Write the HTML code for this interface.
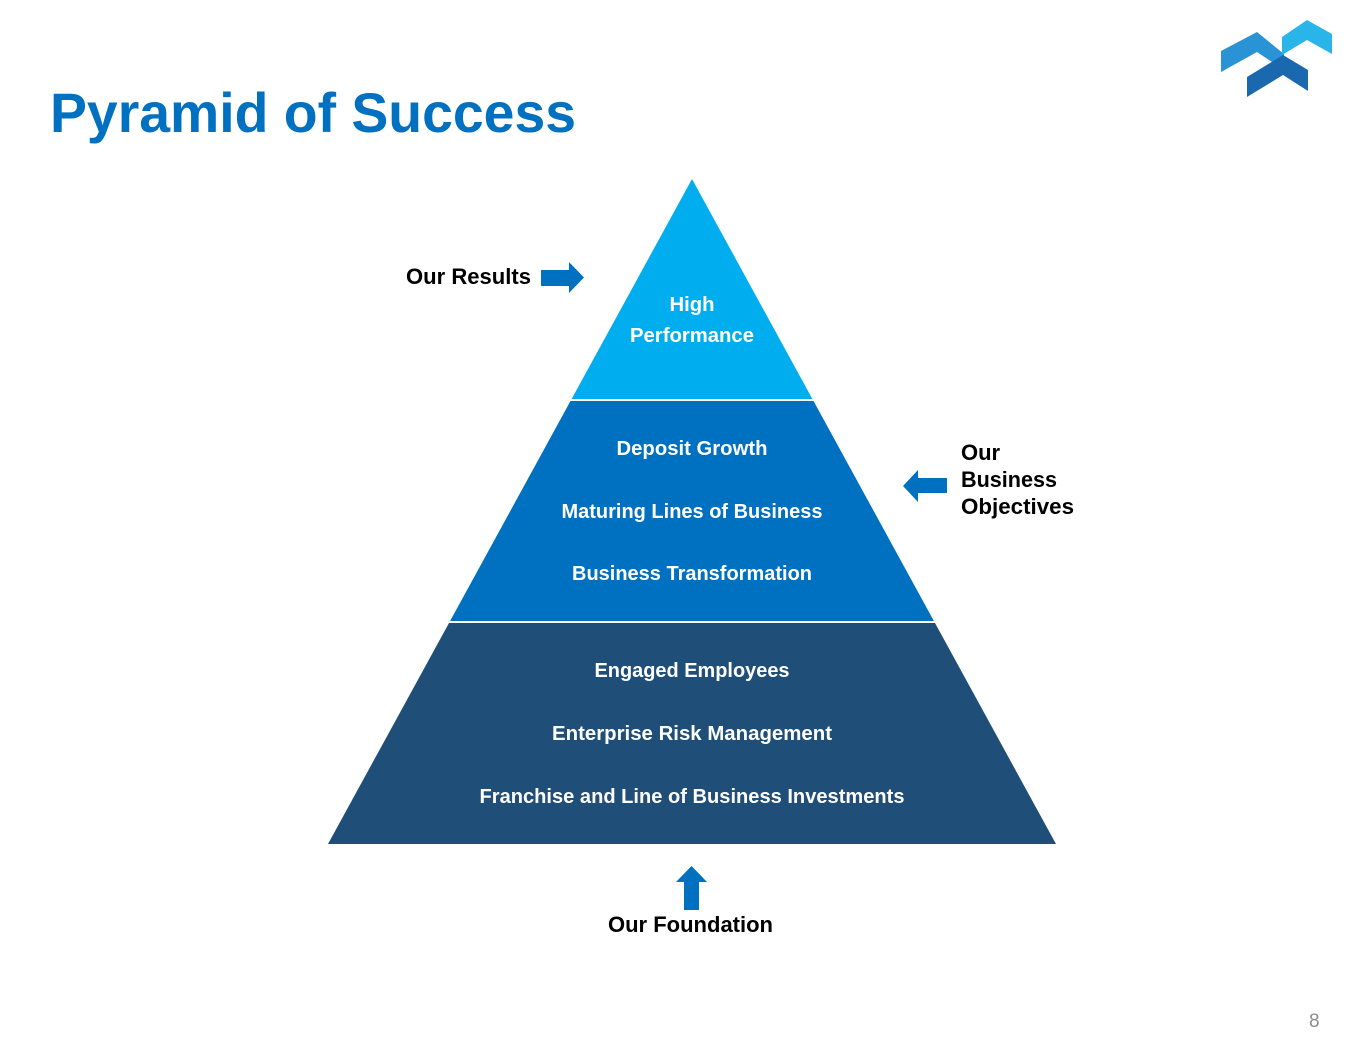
<!DOCTYPE html>
<html>
<head>
<meta charset="utf-8">
<style>
  html, body { margin: 0; padding: 0; background: #ffffff; }
  body { width: 1365px; height: 1055px; overflow: hidden; }
  svg { display: block; }
  text { font-family: "Liberation Sans", Arial, sans-serif; }
</style>
</head>
<body>
<svg width="1365" height="1055" viewBox="0 0 1365 1055" xmlns="http://www.w3.org/2000/svg">
  <rect x="0" y="0" width="1365" height="1055" fill="#ffffff"/>

  <!-- Title -->
  <text x="50" y="132" font-size="56" font-weight="bold" fill="#0070c0" textLength="526" lengthAdjust="spacingAndGlyphs">Pyramid of Success</text>

  <!-- Logo -->
  <polygon points="1221,51 1257,32 1284,54 1284,70 1257,52 1221,72" fill="#2a93d5"/>
  <polygon points="1282,37 1307,20 1332,34 1332,54 1307,40 1282,55" fill="#29b5ea"/>
  <polygon points="1247,77 1283,55 1308,70 1308,91 1283,75 1247,97" fill="#1a68ae"/>

  <!-- Pyramid -->
  <polygon points="692,179 812.4,399 571.6,399" fill="#00aeef"/>
  <polygon points="570.5,401 813.5,401 933.9,621 450.1,621" fill="#0070c0"/>
  <polygon points="449,623 935,623 1056,844 328,844" fill="#1f4e79"/>

  <!-- Pyramid text -->
  <g font-size="20" font-weight="bold" fill="#ffffff" text-anchor="middle">
    <text x="692" y="311" textLength="45" lengthAdjust="spacingAndGlyphs">High</text>
    <text x="692" y="342" textLength="124" lengthAdjust="spacingAndGlyphs">Performance</text>
    <text x="692" y="455" textLength="151" lengthAdjust="spacingAndGlyphs">Deposit Growth</text>
    <text x="692" y="518" textLength="261" lengthAdjust="spacingAndGlyphs">Maturing Lines of Business</text>
    <text x="692" y="580" textLength="240" lengthAdjust="spacingAndGlyphs">Business Transformation</text>
    <text x="692" y="677" textLength="195" lengthAdjust="spacingAndGlyphs">Engaged Employees</text>
    <text x="692" y="740" textLength="280" lengthAdjust="spacingAndGlyphs">Enterprise Risk Management</text>
    <text x="692" y="803" textLength="425" lengthAdjust="spacingAndGlyphs">Franchise and Line of Business Investments</text>
  </g>

  <!-- Labels -->
  <g font-size="22" font-weight="bold" fill="#000000">
    <text x="406" y="284" textLength="125" lengthAdjust="spacingAndGlyphs">Our Results</text>
    <text x="961" y="460">Our</text>
    <text x="961" y="487" textLength="96" lengthAdjust="spacingAndGlyphs">Business</text>
    <text x="961" y="514" textLength="113" lengthAdjust="spacingAndGlyphs">Objectives</text>
    <text x="608" y="932" textLength="165" lengthAdjust="spacingAndGlyphs">Our Foundation</text>
  </g>

  <!-- Arrows -->
  <polygon points="541,270 569,270 569,262 584,277.5 569,293 569,286 541,286" fill="#0070c0"/>
  <polygon points="947,478 918,478 918,470 903,486 918,502 918,493 947,493" fill="#0070c0"/>
  <polygon points="684,910 684,882 676,882 691.5,866 707,882 699,882 699,910" fill="#0070c0"/>

  <!-- Page number -->
  <text x="1309" y="1027" font-size="19" fill="#8c8c8c">8</text>
</svg>
</body>
</html>
